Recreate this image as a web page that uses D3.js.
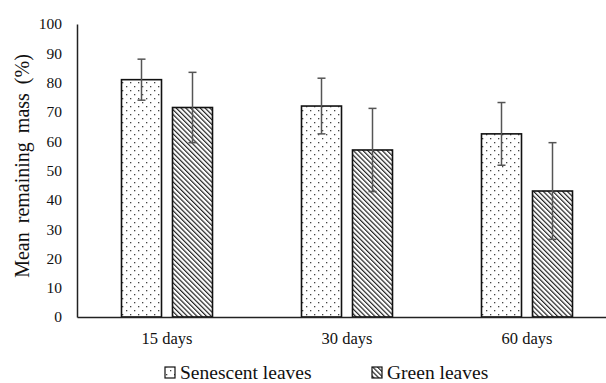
<!DOCTYPE html>
<html>
<head>
<meta charset="utf-8">
<script src="https://cdn.jsdelivr.net/npm/d3@7"></script>
<style>
  body { margin: 0; background: #fff; }
  svg text { font-family: "Liberation Serif", "Times New Roman", serif; fill: #111; }
</style>
</head>
<body>
<svg id="chart" width="606" height="383"></svg>
<script>
const CATEGORIES = ["15 days", "30 days", "60 days"];
const SERIES = ["Senescent leaves", "Green leaves"];
const SENESCENT_MEAN = [81, 72, 62.5];
const SENESCENT_ERR = [7, 9.5, 10.7];
const GREEN_MEAN = [71.5, 57, 43];
const GREEN_ERR = [12, 14.2, 16.5];
const Y_TICKS = [0, 10, 20, 30, 40, 50, 60, 70, 80, 90, 100];

const W = 606, H = 383;
const plotLeft = 77, plotTop = 24, plotBottom = 317;
const serif = "Liberation Serif";

const svg = d3.select("#chart");
const defs = svg.append("defs");

// dotted fill for senescent leaves (staggered dots)
const dots = defs.append("pattern")
  .attr("id", "dots")
  .attr("patternUnits", "userSpaceOnUse")
  .attr("width", 8).attr("height", 8);
dots.append("rect").attr("width", 8).attr("height", 8).attr("fill", "#fff");
dots.append("rect").attr("x", 2).attr("y", 2).attr("width", 1.3).attr("height", 1.3).attr("fill", "#444");
dots.append("rect").attr("x", 6).attr("y", 6).attr("width", 1.3).attr("height", 1.3).attr("fill", "#444");

// diagonal hatch for green leaves, running top-left to bottom-right
const hatch = defs.append("pattern")
  .attr("id", "hatch")
  .attr("patternUnits", "userSpaceOnUse")
  .attr("width", 3.4).attr("height", 3.4)
  .attr("patternTransform", "rotate(-45)");
hatch.append("rect").attr("width", 3.4).attr("height", 3.4).attr("fill", "#fff");
hatch.append("rect").attr("x", 0).attr("width", 1.2).attr("height", 3.4).attr("fill", "#222");

const fills = ["url(#dots)", "url(#hatch)"];

const x = d3.scaleBand().domain(CATEGORIES).range([plotLeft, plotLeft + 540]);
const y = d3.scaleLinear().domain([0, 100]).range([plotBottom, plotTop]);

const barW = 40, gap = 11;
const rows = [];
CATEGORIES.forEach((c, i) => {
  rows.push({ cat: c, s: 0, mean: SENESCENT_MEAN[i], err: SENESCENT_ERR[i] });
  rows.push({ cat: c, s: 1, mean: GREEN_MEAN[i], err: GREEN_ERR[i] });
});
const barX = d => x(d.cat) + x.bandwidth() / 2 - (barW + gap / 2) + d.s * (barW + gap);

// y axis
const yAxis = svg.append("g")
  .attr("transform", `translate(${plotLeft},0)`)
  .call(d3.axisLeft(y).tickValues(Y_TICKS).tickSize(0).tickPadding(15));
yAxis.select(".domain").attr("stroke", "#222").attr("stroke-width", 1.5);
yAxis.selectAll("text").attr("font-size", 15.5).attr("font-family", serif);

svg.append("text")
  .attr("transform", `translate(29,166) rotate(-90)`)
  .attr("text-anchor", "middle")
  .attr("font-family", serif)
  .attr("font-size", 20)
  .attr("word-spacing", 4)
  .text("Mean remaining mass (%)");

// bars
svg.append("g").selectAll("rect")
  .data(rows)
  .join("rect")
  .attr("x", d => barX(d))
  .attr("y", d => y(d.mean))
  .attr("width", barW)
  .attr("height", d => y(0) - y(d.mean))
  .attr("fill", d => fills[d.s])
  .attr("stroke", "#111")
  .attr("stroke-width", 1.6);

// error bars
const eb = svg.append("g").attr("stroke", "#555").attr("stroke-width", 1.5);
rows.forEach(d => {
  const cx = barX(d) + barW / 2;
  eb.append("line").attr("x1", cx).attr("x2", cx).attr("y1", y(d.mean + d.err)).attr("y2", y(d.mean - d.err));
  [d.mean + d.err, d.mean - d.err].forEach(v => {
    eb.append("line").attr("x1", cx - 4).attr("x2", cx + 4).attr("y1", y(v)).attr("y2", y(v));
  });
});

// x axis
const xAxis = svg.append("g")
  .attr("transform", `translate(0,${plotBottom})`)
  .call(d3.axisBottom(x).tickSize(0).tickPadding(15));
xAxis.select(".domain").attr("stroke", "#222").attr("stroke-width", 1.5);
xAxis.selectAll("text").attr("font-size", 16.5).attr("font-family", serif);

// legend
const legend = svg.append("g");
SERIES.forEach((name, i) => {
  const lx = i === 0 ? 165 : 372;
  legend.append("rect")
    .attr("x", lx).attr("y", 367).attr("width", 10).attr("height", 11)
    .attr("fill", fills[i]).attr("stroke", "#111").attr("stroke-width", 1.2);
  legend.append("text")
    .attr("x", lx + 15).attr("y", 379)
    .attr("font-family", serif)
    .attr("font-size", 19.5)
    .text(name);
});
</script>
</body>
</html>
